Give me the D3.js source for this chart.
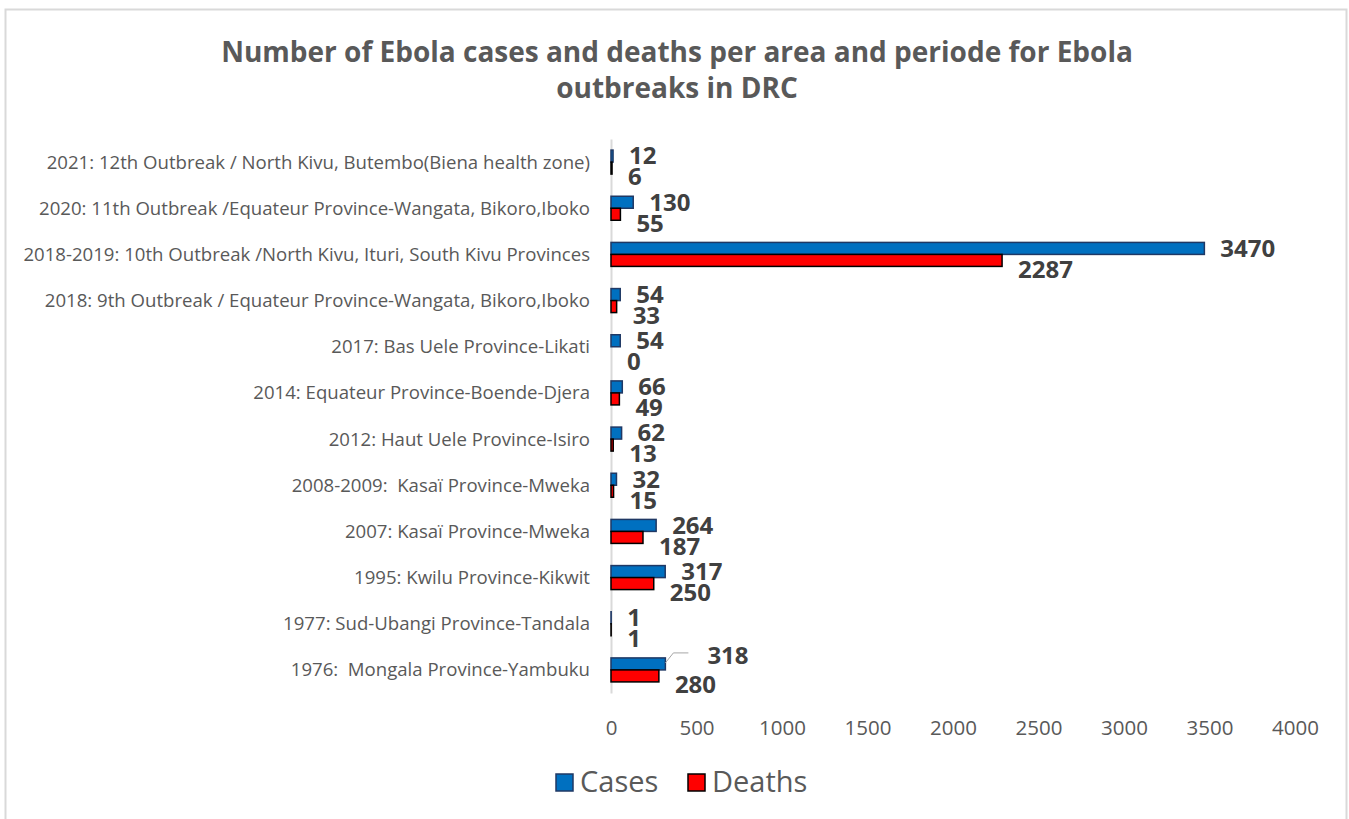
<!DOCTYPE html>
<html>
<head>
<meta charset="utf-8">
<script src="https://cdn.jsdelivr.net/npm/d3@7"></script>
<style>
  body { margin: 0; background: #fff; }
  svg text { font-family: "Open Sans", sans-serif; }
</style>
</head>
<body>
<div id="chart"></div>
<script>
// data, top row first (same order as on the picture)
var categories = [
    "2021: 12th Outbreak / North Kivu, Butembo(Biena health zone)",
    "2020: 11th Outbreak /Equateur Province-Wangata, Bikoro,Iboko",
    "2018-2019: 10th Outbreak /North Kivu, Ituri, South Kivu Provinces",
    "2018: 9th Outbreak / Equateur Province-Wangata, Bikoro,Iboko",
    "2017: Bas Uele Province-Likati",
    "2014: Equateur Province-Boende-Djera",
    "2012: Haut Uele Province-Isiro",
    "2008-2009:  Kasaï Province-Mweka",
    "2007: Kasaï Province-Mweka",
    "1995: Kwilu Province-Kikwit",
    "1977: Sud-Ubangi Province-Tandala",
    "1976:  Mongala Province-Yambuku"
];
var cases  = [12, 130, 3470, 54, 54, 66, 62, 32, 264, 317, 1, 318];
var deaths = [6, 55, 2287, 33, 0, 49, 13, 15, 187, 250, 1, 280];
var seriesNames = ["Cases", "Deaths"];
var xTicks = [0, 500, 1000, 1500, 2000, 2500, 3000, 3500, 4000];
var titleLines = [
    "Number of Ebola cases and deaths per area and periode for Ebola",
    "outbreaks in DRC"
];
// label that was dragged away from its bar in the original (has a leader line)
var leaderCategory = categories[11];

var W = 1349, H = 819;
var fills = ["#0070C0", "#FF0000"];
var strokes = ["#1F3864", "#000000"];

var svg = d3.select("#chart")
    .append("svg")
    .attr("width", W)
    .attr("height", H);

// chart area border
svg.append("rect")
    .attr("x", 5.5)
    .attr("y", 9.5)
    .attr("width", 1341)
    .attr("height", 830)
    .attr("fill", "#fff")
    .attr("stroke", "#d9d9d9")
    .attr("stroke-width", 2);

// title
svg.append("text")
    .attr("text-anchor", "middle")
    .attr("font-size", "28px")
    .attr("font-weight", "bold")
    .attr("fill", "#595959")
    .selectAll("tspan")
    .data(titleLines)
    .join("tspan")
    .attr("x", 677)
    .attr("y", function (d, i) { return 62 + i * 36; })
    .text(function (d) { return d; });

var x = d3.scaleLinear()
    .domain([0, 4000])
    .range([611, 1295]);

var y = d3.scaleBand()
    .domain(categories)
    .range([139, 693]);

var barH = 12;
var sub = d3.scaleBand()
    .domain(seriesNames)
    .range([-barH, barH]);

// x axis labels only (no line, no ticks)
var xAxis = svg.append("g")
    .attr("transform", "translate(0,735)")
    .call(d3.axisBottom(x).tickValues(xTicks).tickSize(0).tickPadding(0).tickFormat(d3.format("d")));
xAxis.select(".domain").remove();
xAxis.selectAll("text")
    .attr("font-size", "20.5px")
    .attr("fill", "#595959")
    .attr("dy", 0)
    .style("font-family", "'Open Sans', sans-serif");

// category axis
var yAxis = svg.append("g")
    .attr("transform", "translate(611,0)")
    .call(d3.axisLeft(y).tickSize(0).tickPadding(21));
yAxis.select(".domain")
    .attr("stroke", "#d9d9d9")
    .attr("stroke-width", 2);
yAxis.selectAll("text")
    .attr("font-size", "18.6px")
    .attr("fill", "#595959")
    .attr("dy", "0.35em")
    .style("white-space", "pre")
    .style("font-family", "'Open Sans', sans-serif");

var rows = categories.map(function (c, i) {
    return { cat: c, values: [cases[i], deaths[i]] };
});

var groups = svg.append("g")
    .selectAll("g")
    .data(rows)
    .join("g")
    .attr("transform", function (d) { return "translate(0," + (y(d.cat) + y.bandwidth() / 2) + ")"; });

groups.selectAll("rect")
    .data(function (d) { return d.values.map(function (v, k) { return { s: seriesNames[k], k: k, v: v }; }); })
    .join("rect")
    .attr("x", x(0))
    .attr("y", function (d) { return sub(d.s); })
    .attr("width", function (d) { return x(d.v) - x(0); })
    .attr("height", sub.bandwidth())
    .attr("fill", function (d) { return fills[d.k]; })
    .attr("stroke", function (d) { return strokes[d.k]; })
    .attr("stroke-width", 1.5);

// value labels
groups.each(function (row) {
    var g = d3.select(this);
    row.values.forEach(function (v, k) {
        var yc = sub(seriesNames[k]) + sub.bandwidth() / 2 + (k == 0 ? 0 : 9);
        var lx = x(v) + 16;
        if (row.cat == leaderCategory && k == 0) {
            // dragged label with leader line
            yc = yc - 8;
            lx = x(v) + 42;
            g.append("polyline")
                .attr("points", [[x(v), yc + 7], [x(v) + 8, yc - 3], [x(v) + 23, yc - 3]].join(" "))
                .attr("fill", "none")
                .attr("stroke", "#a6a6a6")
                .attr("stroke-width", 1);
        }
        g.append("text")
            .attr("x", lx)
            .attr("y", yc)
            .attr("dy", "0.35em")
            .attr("font-size", "24px")
            .attr("font-weight", "bold")
            .attr("fill", "#404040")
            .text(v);
    });
});

// legend
var legend = svg.append("g")
    .attr("transform", "translate(555,782)");
var legX = [0, 132];
seriesNames.forEach(function (s, k) {
    legend.append("rect")
        .attr("x", legX[k] + 1)
        .attr("y", -8)
        .attr("width", 17)
        .attr("height", 17)
        .attr("fill", fills[k])
        .attr("stroke", strokes[k])
        .attr("stroke-width", 1.5);
    legend.append("text")
        .attr("x", legX[k] + 25)
        .attr("y", 0)
        .attr("dy", "0.35em")
        .attr("font-size", "29px")
        .attr("fill", "#595959")
        .text(s);
});
</script>
</body>
</html>
